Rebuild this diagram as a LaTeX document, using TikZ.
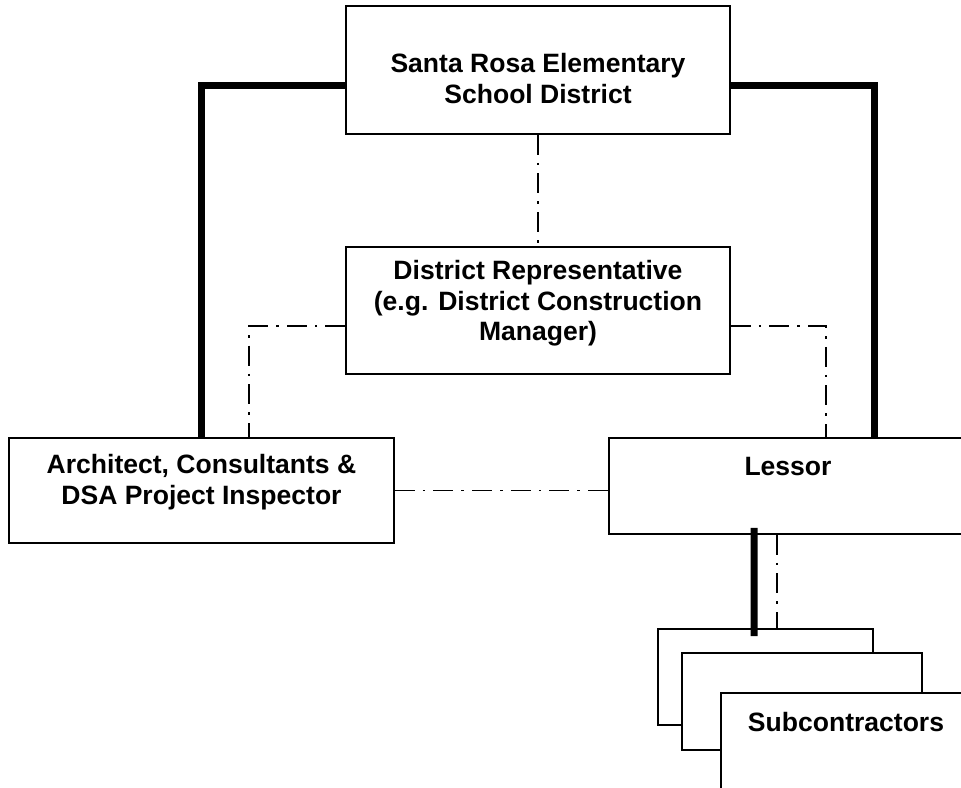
\documentclass[tikz,border=0pt]{standalone}
\usepackage{fontspec}
\setmainfont{Liberation Sans}
\usepackage{tikz}

\begin{document}
\begin{tikzpicture}[x=0.75pt, y=-0.75pt,
    box/.style={draw, line width=1.2pt, fill=white, inner sep=0pt},
    lbl/.style={draw=none, align=center, inner sep=0pt,
        font=\bfseries\fontsize{19.9pt}{22.9pt}\selectfont},
    heavy/.style={line width=5.25pt},
    dashdot/.style={line width=1.3pt, dash pattern=on 15pt off 6pt on 2pt off 6pt}]
             \useasboundingbox (0,0) rectangle (961,788);

             \node[box, minimum width=288pt, minimum height=96pt] (district) at (538,70) {};
             \node[lbl] (districttxt) at (538,78.5) {Santa Rosa Elementary\\School District};

             \node[box, minimum width=288pt, minimum height=95.25pt] (rep) at (538,310.5) {};
             \node[lbl] (reptxt) at (538,303.5) {District Representative\\(e.g. District Construction\\Manager)};

             \node[box, minimum width=288.75pt, minimum height=78.75pt] (arch) at (201.5,490.5) {};
             \node[lbl] (archtxt) at (201.5,482) {Architect, Consultants \&\\DSA Project Inspector};

             \node[box, minimum width=268.5pt, minimum height=72pt] (lessor) at (788,486) {};
             \node[lbl] (lessortxt) at (788,467) {Lessor};

             \node[box, minimum width=161.25pt, minimum height=72pt] (sub1) at (765.5,677) {};
             \node[box, minimum width=180pt, minimum height=72.75pt] (sub2) at (802,701.5) {};
             \node[box, minimum width=187.5pt, minimum height=72pt] (sub3) at (846,741) {};
             \node[lbl] (subtxt) at (846,722) {Subcontractors};

             % contract lines
             \draw[heavy] ([yshift=-12pt]district.west) -| (arch.north);
             \draw[heavy] ([yshift=-12pt]district.east) -| ([xshift=64.5pt]lessor.north);
             \draw[heavy] ([xshift=-25.5pt,yshift=5.25pt]lessor.south) -- ([xshift=-8.6pt,yshift=-6pt]sub1.north);

             % communication lines
             \draw[dashdot] (district) -- (rep);
             \draw[dashdot] ([yshift=-11.6pt]rep.west) -| ([xshift=35.6pt]arch.north);
             \draw[dashdot] ([yshift=-11.6pt]rep.east) -| ([xshift=28.5pt]lessor.north);
             \draw[dashdot] (arch.east) -- (arch.east -| lessor.west);
             \draw[dashdot] ([xshift=-8.25pt]lessor.south) -- ([xshift=-8.25pt]lessor.south |- sub1.north);
\end{tikzpicture}
\end{document}
